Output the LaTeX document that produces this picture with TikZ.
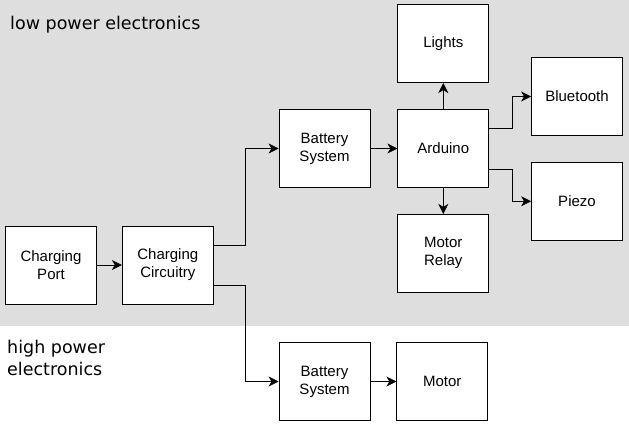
\documentclass[tikz,border=0pt]{standalone}
\usepackage{fontspec}
\setmainfont{Liberation Sans}
\newfontfamily\zonefont{DejaVu Sans}
\usetikzlibrary{positioning}
\usetikzlibrary{arrows.meta}
\definecolor{zonegray}{RGB}{222,222,222}

\begin{document}
\begin{tikzpicture}[
x=1pt, y=1pt,
node distance=26pt,
block/.style={
	rectangle,
	draw=black,
	fill=white,
	thick,
	inner sep=0pt,
	align=center,
	minimum width=91pt,
	minimum height=78pt,
	font=\fontsize{15}{18}\selectfont
},
zone/.style={
	anchor=base west,
	inner sep=0pt,
	align=left,
	font=\zonefont\fontsize{17.5}{22}\selectfont
},
link/.style={
	draw=black,
	semithick,
	-{Stealth[length=10pt,width=10pt,inset=3pt]}
}
]
\useasboundingbox (0,0) rectangle (629,-429);

% Zones
\fill [zonegray] (0,0) rectangle (629,-326);
\node [zone] (Low) at (10,-29) {low power electronics};
\node [zone] (High) at (7,-375) {high power\\electronics};

% Charging
\node [block] (Port) at (51,-265) {Charging\\Port};
\node [block, right=25pt of Port] (Circuitry) {Charging\\Circuitry};

% Low power side
\node [block] (BatLow) at (324.5,-148.5) {Battery\\System};
\node [block, right=27pt of BatLow] (Arduino) {Arduino};
\node [block, above=26pt of Arduino] (Lights) {Lights};
\node [block, below=26pt of Arduino] (Relay) {Motor\\Relay};
\node [block] (Bluetooth) at (577,-96.5) {Bluetooth};
\node [block, below=26pt of Bluetooth] (Piezo) {Piezo};

% High power side
\node [block] (BatHigh) at (324.5,-381.5) {Battery\\System};
\node [block, right=26pt of BatHigh] (Motor) {Motor};

% Connections
\draw [link] (Port) -- (Circuitry);
\draw [link] ([yshift=20pt]Circuitry.east) -- ++(32pt,0) |- (BatLow.west);
\draw [link] ([yshift=-20pt]Circuitry.east) -- ++(32pt,0) |- (BatHigh.west);
\draw [link] (BatLow) -- (Arduino);
\draw [link] (Arduino) -- (Lights);
\draw [link] (Arduino) -- (Relay);
\draw [link] ([yshift=20pt]Arduino.east) -- ++(23pt,0) |- (Bluetooth.west);
\draw [link] ([yshift=-21pt]Arduino.east) -- ++(23pt,0) |- (Piezo.west);
\draw [link] (BatHigh) -- (Motor);

\end{tikzpicture}
\end{document}
